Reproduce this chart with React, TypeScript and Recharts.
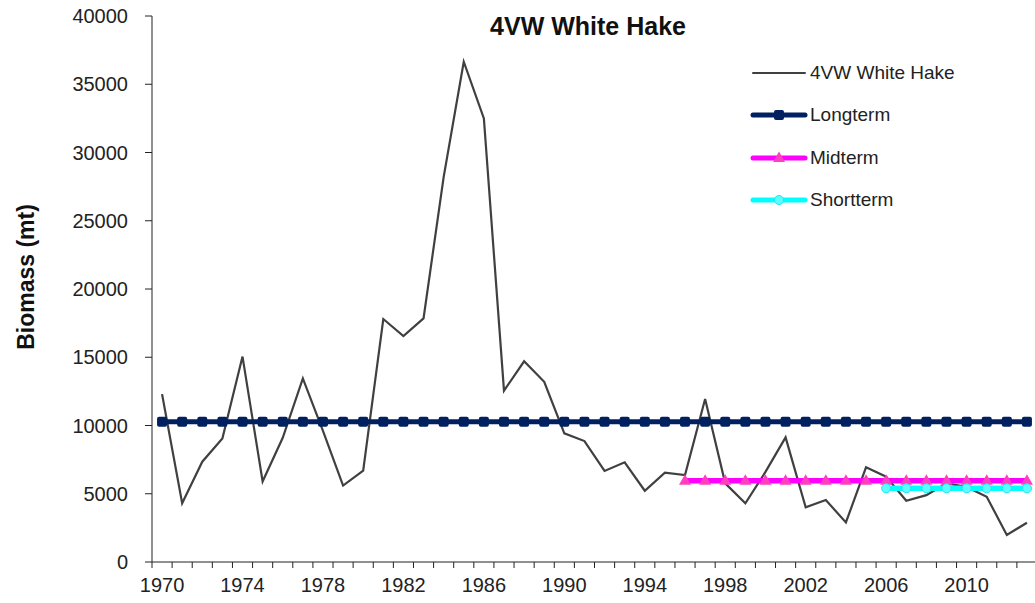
import { LineChart, Line, XAxis, YAxis } from "recharts";

// survey years and biomass index (mt)
const years = [
  1970, 1971, 1972, 1973, 1974, 1975, 1976, 1977, 1978, 1979,
  1980, 1981, 1982, 1983, 1984, 1985, 1986, 1987, 1988, 1989,
  1990, 1991, 1992, 1993, 1994, 1995, 1996, 1997, 1998, 1999,
  2000, 2001, 2002, 2003, 2004, 2005, 2006, 2007, 2008, 2009,
  2010, 2011, 2012, 2013,
];
const biomass = [
  12300, 4300, 7350, 9050, 15050, 5900, 9100, 13450, 9600, 5600,
  6700, 17800, 16550, 17850, 28200, 36650, 32500, 12550, 14700, 13200,
  9430, 8860, 6670, 7300, 5220, 6540, 6370, 11940, 5760, 4300,
  6600, 9130, 4000, 4540, 2900, 6940, 6250, 4490, 4900, 5760,
  5500, 4780, 1980, 2880,
];

// reference means
const longtermMean = 10280;
const midtermMean = 5960;
const midtermStart = 1996;
const shorttermMean = 5400;
const shorttermStart = 2006;

const yTicks = [0, 5000, 10000, 15000, 20000, 25000, 30000, 35000, 40000];
const xLabels = [1970, 1974, 1978, 1982, 1986, 1990, 1994, 1998, 2002, 2006, 2010];

const data = years.map((year, i) => ({
  year,
  biomass: biomass[i],
  longterm: longtermMean,
  midterm: year >= midtermStart ? midtermMean : null,
  shortterm: year >= shorttermStart ? shorttermMean : null,
}));

// tick marks sit between years, like the excel category axis
const tickMarks = [years[0] - 0.5, ...years.map((y) => y + 0.5)];

const W = 1040;
const H = 603;
const margin = { top: 16, right: 3, bottom: 0, left: 0 };
const yAxisWidth = 152;
const pxPerYear = (W - margin.left - margin.right - yAxisWidth) / years.length;

const font = "'Liberation Sans', Arial, sans-serif";
const textColor = "#222";
const NAVY = "#002060";
const MAGENTA = "#FF00FF";
const CYAN = "#00FFFF";

const SquareDot = ({ cx, cy }: any) =>
  cx == null || cy == null ? null : (
    <rect x={cx - 5} y={cy - 5} width={10} height={10} rx={2} fill={NAVY} />
  );

const TriangleDot = ({ cx, cy }: any) =>
  cx == null || cy == null ? null : (
    <polygon
      points={`${cx - 6},${cy + 4} ${cx + 6},${cy + 4} ${cx},${cy - 6.5}`}
      fill="#FF3FBF"
    />
  );

const CircleDot = ({ cx, cy }: any) =>
  cx == null || cy == null ? null : (
    <circle cx={cx} cy={cy} r={4.5} fill="#5CFFFF" stroke="#1EE6F0" strokeWidth={1} />
  );

const YearTick = ({ x, y, payload }: any) => {
  const label = payload.value + 0.5;
  if (!xLabels.includes(label)) return null;
  return (
    <text
      x={x + pxPerYear / 2}
      y={y}
      dy="0.72em"
      textAnchor="middle"
      fill={textColor}
      fontSize={20}
      fontFamily={font}
    >
      {label}
    </text>
  );
};

const legendItems = [
  { name: "4VW White Hake", color: "#404040", width: 2, marker: null },
  { name: "Longterm", color: NAVY, width: 5, marker: "square" },
  { name: "Midterm", color: MAGENTA, width: 5, marker: "triangle" },
  { name: "Shortterm", color: CYAN, width: 5, marker: "circle" },
];

function LegendBox() {
  return (
    <div style={{ position: "absolute", left: 750, top: 52, fontFamily: font }}>
      {legendItems.map((item) => (
        <div
          key={item.name}
          style={{ display: "flex", alignItems: "center", height: 42.3 }}
        >
          <svg width={58} height={20}>
            <line x1={3} y1={10} x2={55} y2={10} stroke={item.color} strokeWidth={item.width} strokeLinecap="round" />
            {item.marker === "square" && <SquareDot cx={29} cy={10} />}
            {item.marker === "triangle" && <TriangleDot cx={29} cy={10} />}
            {item.marker === "circle" && <CircleDot cx={29} cy={10} />}
          </svg>
          <span style={{ fontSize: 19, color: textColor, marginLeft: 2 }}>{item.name}</span>
        </div>
      ))}
    </div>
  );
}

export default function App() {
  return (
    <div
      style={{
        position: "absolute",
        left: 0,
        top: 0,
        width: 1035,
        height: H,
        overflow: "hidden",
        background: "#fff",
      }}
    >
      <LineChart width={W} height={H} data={data} margin={margin}>
        <XAxis
          dataKey="year"
          type="number"
          domain={[years[0] - 0.5, years[years.length - 1] + 0.5]}
          ticks={tickMarks}
          interval={0}
          tick={<YearTick />}
          tickSize={6}
          tickMargin={10}
          height={H - margin.top - 546}
          stroke={textColor}
        />
        <YAxis
          domain={[0, 40000]}
          ticks={yTicks}
          interval={0}
          width={yAxisWidth}
          tickSize={7}
          tickMargin={17}
          stroke={textColor}
          tick={{ fill: textColor, fontSize: 20, fontFamily: font }}
          label={{
            content: ({ viewBox }: any) => {
              const cx = 26;
              const cy = viewBox.y + viewBox.height / 2 - 12;
              return (
                <text
                  x={cx}
                  y={cy}
                  transform={`rotate(-90, ${cx}, ${cy})`}
                  textAnchor="middle"
                  dominantBaseline="central"
                  fontSize={23}
                  fontWeight="bold"
                  fontFamily={font}
                  fill="#111"
                >
                  Biomass (mt)
                </text>
              );
            },
          }}
        />
        <Line
          dataKey="biomass"
          stroke="#404040"
          strokeWidth={2.2}
          dot={false}
          isAnimationActive={false}
        />
        <Line
          dataKey="longterm"
          stroke={NAVY}
          strokeWidth={5}
          dot={<SquareDot />}
          isAnimationActive={false}
        />
        <Line
          dataKey="midterm"
          stroke={MAGENTA}
          strokeWidth={5.5}
          dot={<TriangleDot />}
          connectNulls={false}
          isAnimationActive={false}
        />
        <Line
          dataKey="shortterm"
          stroke={CYAN}
          strokeWidth={5.5}
          dot={<CircleDot />}
          connectNulls={false}
          isAnimationActive={false}
        />
      </LineChart>
      <div
        style={{
          position: "absolute",
          left: 388,
          top: 14,
          width: 400,
          textAlign: "center",
          fontFamily: font,
          fontWeight: "bold",
          fontSize: 25,
          lineHeight: "25px",
          color: "#111",
        }}
      >
        4VW White Hake
      </div>
      <LegendBox />
    </div>
  );
}
